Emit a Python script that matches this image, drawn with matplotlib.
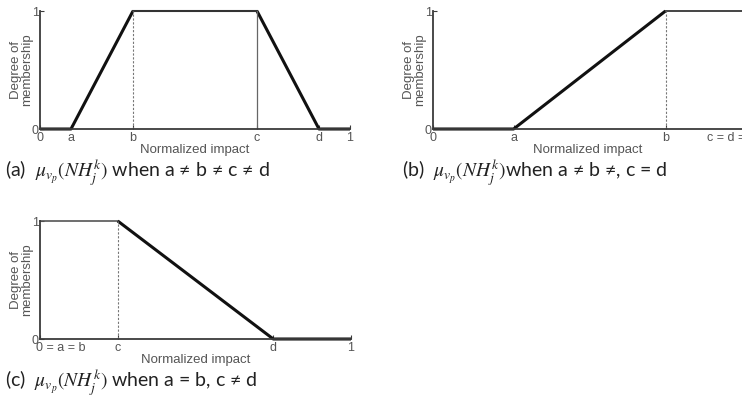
import matplotlib
matplotlib.use("Agg")
import matplotlib.pyplot as plt
import matplotlib.transforms as mtransforms

# break points (normalized impact)
A_POINTS = [0.10, 0.30, 0.70, 0.90]   # a, b, c, d in (a)
B_POINTS = [0.26, 0.75]               # a, b in (b), c = d = 1
C_POINTS = [0.25, 0.75]               # c, d in (c), a = b = 0

A_TICKS = ["0", "a", "b", "c", "d", "1"]
B_TICKS = ["0", "a", "b", "c = d = 1"]
C_TICKS = ["0 = a = b", "c", "d", "1"]

CAPTIONS = [
    r"(a)  $\mu_{v_p}(NH_j^k)$ when a ≠ b ≠ c ≠ d",
    r"(b)  $\mu_{v_p}(NH_j^k)$when a ≠ b ≠, c = d",
    r"(c)  $\mu_{v_p}(NH_j^k)$ when a = b, c ≠ d",
]

plt.rcParams["mathtext.fontset"] = "stix"

W, H = 742, 400
GREY = "#555555"
AX_COL = "#3a3a3a"
LABEL_FONT = ["Liberation Sans", "DejaVu Sans"]
CAP_FONT = ["Lato", "DejaVu Sans"]


def make_axes(fig, left, top, width, height):
    ax = fig.add_axes([left / W, 1 - (top + height) / H, width / W, height / H])
    ax.set_xlim(0, 1)
    ax.set_ylim(0, 1)
    for s in ["top", "right"]:
        ax.spines[s].set_visible(False)
    for s in ["left", "bottom"]:
        ax.spines[s].set_color(AX_COL)
        ax.spines[s].set_linewidth(1.3)
    ax.set_yticks([0, 1])
    ax.set_yticklabels(["0", "1"])
    ax.tick_params(direction="in", length=3, width=0.8, color=AX_COL,
                   labelsize=9, labelcolor=GREY)
    ax.tick_params(axis="x", pad=2)
    ax.tick_params(axis="y", pad=1)
    for lab in ax.get_yticklabels():
        lab.set_family(LABEL_FONT)
    ax.set_ylabel("Degree of\nmembership", fontsize=9.5, color=GREY,
                  family=LABEL_FONT, labelpad=-1, linespacing=0.9)
    ax.set_xlabel("Normalized impact", fontsize=9.5, color=GREY,
                  family=LABEL_FONT, labelpad=0)
    return ax


def set_xticks(ax, pos, labels):
    ax.set_xticks(pos)
    ax.set_xticklabels(labels)
    for lab in ax.get_xticklabels():
        lab.set_family(LABEL_FONT)


fig = plt.figure(figsize=(W / 100, H / 100), dpi=100)

# (a) trapezoid
a, b, c, d = A_POINTS
ax1 = make_axes(fig, 40, 11, 310, 118)
ax1.plot([0, a, b], [0, 0, 1], color="#111111", lw=2.2, clip_on=False, solid_capstyle="butt")
ax1.plot([c, d, 1], [1, 0, 0], color="#111111", lw=2.2, clip_on=False, solid_capstyle="butt")
ax1.plot([b, c], [1, 1], color="#333333", lw=1.5, clip_on=False)
ax1.plot([b, b], [0, 1], color="#777777", lw=0.8, ls=(0, (2, 1.5)))
ax1.plot([c, c], [0, 1], color="#666666", lw=0.9)
set_xticks(ax1, [0] + A_POINTS + [1], A_TICKS)

# (b) left shoulder rising to 1
a, b = B_POINTS
ax2 = make_axes(fig, 433, 11, 310, 118)
ax2.plot([0, a, b], [0, 0, 1], color="#111111", lw=2.2, clip_on=False, solid_capstyle="butt")
ax2.plot([b, 1], [1, 1], color="#444444", lw=1.4, clip_on=False)
ax2.plot([b, b], [0, 1], color="#777777", lw=0.8, ls=(0, (2, 1.5)))
set_xticks(ax2, [0] + B_POINTS + [1], B_TICKS)
last = ax2.get_xticklabels()[-1]
last.set_transform(last.get_transform() + mtransforms.ScaledTranslation(-0.12, 0, fig.dpi_scale_trans))

# (c) falling shoulder
c, d = C_POINTS
ax3 = make_axes(fig, 40, 221, 311, 118)
ax3.plot([0, c], [1, 1], color="#555555", lw=1.2, clip_on=False)
ax3.plot([c, d, 1], [1, 0, 0], color="#111111", lw=2.2, clip_on=False, solid_capstyle="butt")
ax3.plot([c, c], [0, 1], color="#777777", lw=0.8, ls=(0, (2, 1.5)))
set_xticks(ax3, [0] + C_POINTS + [1], C_TICKS)
first = ax3.get_xticklabels()[0]
first.set_horizontalalignment("left")
first.set_transform(first.get_transform() + mtransforms.ScaledTranslation(-0.035, 0, fig.dpi_scale_trans))

# captions under each panel
cap_pos = [(5, 178), (402, 178), (5, 388)]
for (x, y), txt in zip(cap_pos, CAPTIONS):
    fig.text(x / W, 1 - y / H, txt, fontsize=14, color="#222222",
             family=CAP_FONT, va="baseline", ha="left")

fig.savefig("out.png", dpi=100)
